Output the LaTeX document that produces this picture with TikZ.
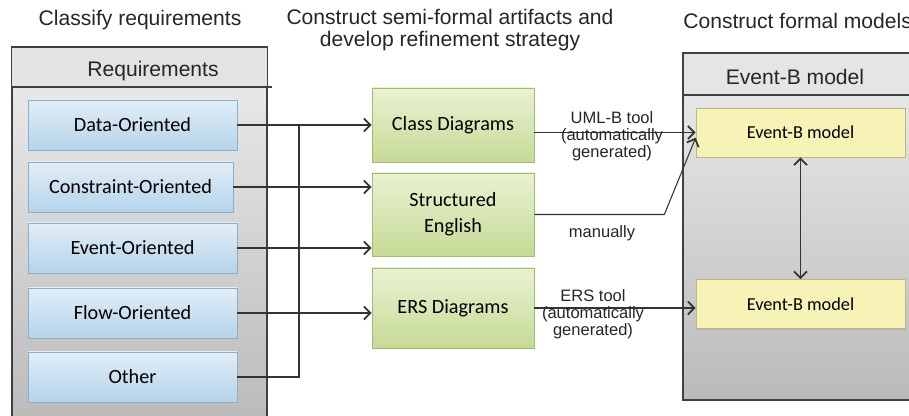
\documentclass[tikz,border=0pt]{standalone}
\usepackage{fontspec}
\setmainfont{Liberation Sans}
\newfontfamily\boxfont{Carlito}
\usetikzlibrary{arrows.meta,shadows}

\definecolor{reqtop}{HTML}{E2EEF7}
\definecolor{reqbot}{HTML}{B5D3EA}
\definecolor{reqline}{HTML}{8AAFCB}
\definecolor{arttop}{HTML}{E9F2D2}
\definecolor{artbot}{HTML}{C6DA96}
\definecolor{artline}{HTML}{A3BA72}
\definecolor{modfill}{HTML}{F7F3B7}
\definecolor{modline}{HTML}{BDB684}
\definecolor{linegray}{HTML}{333333}

\begin{document}
\begin{tikzpicture}[
    reqbox/.style={draw=reqline, top color=reqtop, bottom color=reqbot,
      minimum width=4.18cm, minimum height=1cm, font=\boxfont\fontsize{11.5}{13}\selectfont,
      drop shadow={opacity=0.25, shadow xshift=0.6pt, shadow yshift=-0.8pt}},
    artbox/.style={draw=artline, top color=arttop, bottom color=artbot,
      minimum width=3.24cm, align=center, font=\boxfont\fontsize{11.5}{15}\selectfont,
      drop shadow={opacity=0.25, shadow xshift=0.6pt, shadow yshift=-0.8pt}},
    modbox/.style={draw=modline, fill=modfill, minimum width=4.18cm, minimum height=0.98cm,
      font=\boxfont\fontsize{10.4}{12}\selectfont,
      drop shadow={opacity=0.25, shadow xshift=0.6pt, shadow yshift=-0.8pt}},
    panel/.style={draw=black!75, line width=0.7pt, top color=black!7, bottom color=black!27},
    title/.style={font=\fontsize{12}{12.5}\selectfont, text=black!85, align=center},
    toollabel/.style={font=\fontsize{9.4}{9.6}\selectfont, text=black!85, align=center},
    conn/.style={draw=linegray, line width=0.6pt},
    arr/.style={conn, -{Straight Barb[length=1.3mm, width=2.6mm, line width=1pt]}}
  ]
    \useasboundingbox (0,0) rectangle (18.18,8.32);

    % titles
    \node[title] (ttlreq) at (2.8,7.92) {Classify requirements};
    \node[title] (ttlart) at (9.0,7.71) {Construct semi-formal artifacts and\\develop refinement strategy};
    \node[title, anchor=west, inner sep=0pt] (ttlmod) at (13.66,7.9) {Construct formal models};

    % requirements panel
    \draw[panel] (0.24,-0.2) rectangle (5.34,7.38);
    \fill[black!11] (0.24,6.58) rectangle (5.34,7.38);
    \draw[black!75, line width=0.7pt] (0.24,7.38) -- (5.34,7.38);
    \draw[black!75, line width=0.7pt] (0.24,6.58) -- (5.44,6.58);
    \node[title] (reqhead) at (3.06,6.9) {Requirements};

    \node[reqbox] (data) at (2.65,5.82) {Data-Oriented};
    \node[reqbox, minimum width=4.1cm] (constraint) at (2.61,4.58) {Constraint-Oriented};
    \node[reqbox] (event) at (2.65,3.36) {Event-Oriented};
    \node[reqbox] (flow) at (2.65,2.06) {Flow-Oriented};
    \node[reqbox] (other) at (2.65,0.78) {Other};

    % semi-formal artifacts
    \node[artbox, minimum height=1.48cm] (class) at (9.06,5.82) {Class Diagrams};
    \node[artbox, minimum height=1.66cm] (structured) at (9.06,4.03) {Structured\\English};
    \node[artbox, minimum height=1.6cm] (ers) at (9.06,2.16) {ERS Diagrams};

    % Event-B panel
    \draw[panel] (13.66,0.32) rectangle (18.5,7.26);
    \fill[black!10] (13.66,6.42) rectangle (18.5,7.26);
    \draw[black!75, line width=0.7pt] (13.66,7.26) -- (18.5,7.26);
    \draw[black!75, line width=0.7pt] (13.66,6.42) -- (18.5,6.42);
    \draw[black!75, line width=0.7pt] (13.66,0.32) -- (13.66,7.26);
    \node[title] (modhead) at (15.9,6.78) {Event-B model};

    \node[modbox] (evbone) at (16.01,5.67) {Event-B model};
    \node[modbox] (evbtwo) at (16.01,2.24) {Event-B model};

    % requirements to artifacts
    \coordinate (bus) at (5.98,0);
    \draw[arr] (data.east) -- (data.east -| class.west);
    \draw[arr] (constraint.east) -- (constraint.east -| structured.west);
    \draw[arr] (event.east) -- (event.east -| structured.west);
    \draw[arr] (flow.east) -- (flow.east -| ers.west);
    \draw[conn] (other.east) -- (other.east -| bus) -- (bus |- data.east);

    % artifacts to models
    \draw[arr] (class.east |- evbone.west) -- (evbone.west);
    \draw[arr] (structured.east) -- ++(2.6,0) -- ([yshift=-3pt]evbone.west);
    \draw[arr] (ers.east) -- (ers.east -| evbtwo.west);
    \draw[conn, {Straight Barb[length=1.3mm, width=2.6mm, line width=1pt]}-{Straight Barb[length=1.3mm, width=2.6mm, line width=1pt]}] (evbone.south) -- (evbtwo.north);

    \node[toollabel] (umllbl) at (12.24,5.6) {UML-B tool\\(automatically\\generated)};
    \node[toollabel] (manlbl) at (12.04,3.66) {manually};
    \node[toollabel] (erslbl) at (11.86,2.04) {ERS tool\\(automatically\\generated)};
\end{tikzpicture}
\end{document}
